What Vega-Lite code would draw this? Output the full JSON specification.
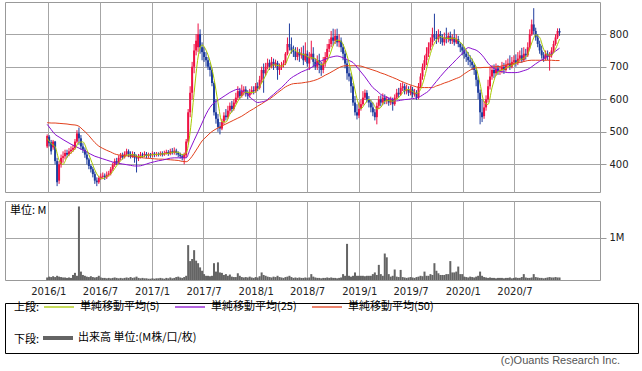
{
"$schema":"https://vega.github.io/schema/vega-lite/v6.json",
"background":"white",
"padding":{"left":4,"top":1,"right":0,"bottom":0},
"datasets":{
"w":[
{"d":"2015-12-28","o":455,"h":492,"l":450,"c":487,"v":0.06},
{"d":"2016-01-04","o":485,"h":490,"l":455,"c":465,"v":0.08},
{"d":"2016-01-11","o":468,"h":475,"l":430,"c":440,"v":0.07},
{"d":"2016-01-18","o":452,"h":475,"l":445,"c":470,"v":0.09},
{"d":"2016-01-25","o":470,"h":472,"l":400,"c":410,"v":0.07},
{"d":"2016-02-01","o":410,"h":420,"l":333,"c":345,"v":0.1},
{"d":"2016-02-08","o":350,"h":410,"l":340,"c":400,"v":0.08},
{"d":"2016-02-15","o":400,"h":430,"l":390,"c":420,"v":0.07},
{"d":"2016-02-22","o":420,"h":440,"l":405,"c":425,"v":0.06},
{"d":"2016-02-29","o":425,"h":445,"l":415,"c":435,"v":0.06},
{"d":"2016-03-07","o":435,"h":445,"l":420,"c":430,"v":0.05},
{"d":"2016-03-14","o":430,"h":450,"l":425,"c":440,"v":0.06},
{"d":"2016-03-21","o":440,"h":455,"l":432,"c":445,"v":0.05},
{"d":"2016-03-28","o":445,"h":460,"l":438,"c":450,"v":0.12},
{"d":"2016-04-04","o":450,"h":478,"l":445,"c":470,"v":0.17},
{"d":"2016-04-11","o":470,"h":505,"l":465,"c":495,"v":0.1},
{"d":"2016-04-18","o":495,"h":513,"l":460,"c":480,"v":1.75},
{"d":"2016-04-25","o":480,"h":490,"l":445,"c":455,"v":0.2},
{"d":"2016-05-02","o":455,"h":465,"l":435,"c":445,"v":0.12},
{"d":"2016-05-09","o":445,"h":452,"l":420,"c":430,"v":0.1},
{"d":"2016-05-16","o":430,"h":440,"l":400,"c":415,"v":0.08},
{"d":"2016-05-23","o":415,"h":420,"l":385,"c":395,"v":0.07},
{"d":"2016-05-30","o":395,"h":400,"l":375,"c":385,"v":0.09},
{"d":"2016-06-06","o":385,"h":392,"l":360,"c":370,"v":0.07},
{"d":"2016-06-13","o":370,"h":378,"l":340,"c":350,"v":0.06},
{"d":"2016-06-20","o":350,"h":360,"l":333,"c":345,"v":0.07},
{"d":"2016-06-27","o":345,"h":365,"l":340,"c":358,"v":0.1},
{"d":"2016-07-04","o":358,"h":372,"l":352,"c":362,"v":0.06},
{"d":"2016-07-11","o":362,"h":375,"l":355,"c":365,"v":0.05},
{"d":"2016-07-18","o":365,"h":372,"l":352,"c":360,"v":0.05},
{"d":"2016-07-25","o":360,"h":378,"l":355,"c":368,"v":0.04},
{"d":"2016-08-01","o":368,"h":380,"l":362,"c":372,"v":0.05},
{"d":"2016-08-08","o":372,"h":392,"l":366,"c":385,"v":0.04},
{"d":"2016-08-15","o":385,"h":405,"l":380,"c":398,"v":0.05},
{"d":"2016-08-22","o":398,"h":418,"l":392,"c":410,"v":0.06},
{"d":"2016-08-29","o":410,"h":420,"l":398,"c":405,"v":0.05},
{"d":"2016-09-05","o":405,"h":428,"l":400,"c":420,"v":0.04},
{"d":"2016-09-12","o":420,"h":435,"l":412,"c":428,"v":0.05},
{"d":"2016-09-19","o":428,"h":436,"l":415,"c":422,"v":0.04},
{"d":"2016-09-26","o":422,"h":440,"l":418,"c":432,"v":0.05},
{"d":"2016-10-03","o":432,"h":448,"l":426,"c":440,"v":0.06},
{"d":"2016-10-10","o":440,"h":446,"l":422,"c":430,"v":0.05},
{"d":"2016-10-17","o":430,"h":440,"l":418,"c":425,"v":0.07},
{"d":"2016-10-24","o":425,"h":440,"l":420,"c":432,"v":0.05},
{"d":"2016-10-31","o":432,"h":438,"l":405,"c":420,"v":0.06},
{"d":"2016-11-07","o":420,"h":430,"l":375,"c":418,"v":0.08},
{"d":"2016-11-14","o":418,"h":432,"l":410,"c":425,"v":0.05},
{"d":"2016-11-21","o":425,"h":438,"l":418,"c":430,"v":0.04},
{"d":"2016-11-28","o":430,"h":436,"l":420,"c":428,"v":0.05},
{"d":"2016-12-05","o":428,"h":440,"l":422,"c":432,"v":0.04},
{"d":"2016-12-12","o":432,"h":438,"l":418,"c":426,"v":0.04},
{"d":"2016-12-19","o":426,"h":436,"l":420,"c":430,"v":0.03},
{"d":"2016-12-26","o":430,"h":435,"l":420,"c":428,"v":0.03},
{"d":"2017-01-02","o":428,"h":440,"l":422,"c":433,"v":0.04},
{"d":"2017-01-09","o":433,"h":438,"l":422,"c":429,"v":0.03},
{"d":"2017-01-16","o":429,"h":438,"l":424,"c":432,"v":0.04},
{"d":"2017-01-23","o":432,"h":437,"l":424,"c":430,"v":0.04},
{"d":"2017-01-30","o":430,"h":440,"l":425,"c":434,"v":0.05},
{"d":"2017-02-06","o":434,"h":440,"l":424,"c":430,"v":0.04},
{"d":"2017-02-13","o":430,"h":442,"l":426,"c":435,"v":0.03},
{"d":"2017-02-20","o":435,"h":445,"l":430,"c":438,"v":0.05},
{"d":"2017-02-27","o":438,"h":444,"l":426,"c":432,"v":0.04},
{"d":"2017-03-06","o":432,"h":448,"l":428,"c":440,"v":0.06},
{"d":"2017-03-13","o":440,"h":450,"l":430,"c":436,"v":0.04},
{"d":"2017-03-20","o":436,"h":452,"l":430,"c":442,"v":0.05},
{"d":"2017-03-27","o":442,"h":448,"l":428,"c":435,"v":0.07},
{"d":"2017-04-03","o":435,"h":440,"l":422,"c":430,"v":0.08},
{"d":"2017-04-10","o":430,"h":436,"l":418,"c":425,"v":0.06},
{"d":"2017-04-17","o":425,"h":432,"l":412,"c":420,"v":0.05},
{"d":"2017-04-24","o":420,"h":436,"l":400,"c":430,"v":0.07},
{"d":"2017-05-01","o":428,"h":478,"l":420,"c":470,"v":0.1},
{"d":"2017-05-08","o":470,"h":570,"l":465,"c":560,"v":0.83},
{"d":"2017-05-15","o":560,"h":640,"l":545,"c":620,"v":0.45},
{"d":"2017-05-22","o":620,"h":715,"l":600,"c":700,"v":0.5},
{"d":"2017-05-29","o":700,"h":770,"l":680,"c":750,"v":0.71},
{"d":"2017-06-05","o":750,"h":800,"l":735,"c":780,"v":0.46},
{"d":"2017-06-12","o":760,"h":833,"l":745,"c":800,"v":0.4},
{"d":"2017-06-19","o":800,"h":815,"l":740,"c":760,"v":0.3},
{"d":"2017-06-26","o":760,"h":775,"l":720,"c":745,"v":0.22},
{"d":"2017-07-03","o":745,"h":760,"l":715,"c":730,"v":0.14},
{"d":"2017-07-10","o":730,"h":745,"l":700,"c":720,"v":0.1},
{"d":"2017-07-17","o":720,"h":730,"l":690,"c":700,"v":0.1},
{"d":"2017-07-24","o":700,"h":712,"l":670,"c":690,"v":0.09},
{"d":"2017-07-31","o":690,"h":695,"l":640,"c":650,"v":0.1},
{"d":"2017-08-07","o":650,"h":655,"l":550,"c":560,"v":0.4},
{"d":"2017-08-14","o":560,"h":600,"l":525,"c":540,"v":0.2},
{"d":"2017-08-21","o":540,"h":555,"l":500,"c":515,"v":0.42},
{"d":"2017-08-28","o":515,"h":530,"l":492,"c":510,"v":0.18},
{"d":"2017-09-04","o":510,"h":540,"l":505,"c":530,"v":0.17},
{"d":"2017-09-11","o":530,"h":560,"l":522,"c":550,"v":0.12},
{"d":"2017-09-18","o":550,"h":570,"l":535,"c":545,"v":0.14},
{"d":"2017-09-25","o":545,"h":580,"l":540,"c":565,"v":0.1},
{"d":"2017-10-02","o":565,"h":590,"l":555,"c":580,"v":0.13},
{"d":"2017-10-09","o":580,"h":595,"l":560,"c":570,"v":0.08},
{"d":"2017-10-16","o":570,"h":600,"l":565,"c":590,"v":0.07},
{"d":"2017-10-23","o":590,"h":620,"l":585,"c":605,"v":0.07},
{"d":"2017-10-30","o":605,"h":640,"l":598,"c":625,"v":0.16},
{"d":"2017-11-06","o":625,"h":635,"l":600,"c":610,"v":0.1},
{"d":"2017-11-13","o":610,"h":645,"l":605,"c":625,"v":0.07},
{"d":"2017-11-20","o":625,"h":640,"l":612,"c":630,"v":0.06},
{"d":"2017-11-27","o":630,"h":640,"l":608,"c":618,"v":0.07},
{"d":"2017-12-04","o":618,"h":628,"l":600,"c":612,"v":0.06},
{"d":"2017-12-11","o":612,"h":632,"l":605,"c":622,"v":0.08},
{"d":"2017-12-18","o":622,"h":640,"l":615,"c":628,"v":0.06},
{"d":"2017-12-25","o":628,"h":640,"l":615,"c":625,"v":0.05},
{"d":"2018-01-01","o":625,"h":650,"l":620,"c":640,"v":0.07},
{"d":"2018-01-08","o":640,"h":652,"l":625,"c":635,"v":0.06},
{"d":"2018-01-15","o":635,"h":672,"l":630,"c":660,"v":0.09},
{"d":"2018-01-22","o":660,"h":700,"l":650,"c":690,"v":0.18},
{"d":"2018-01-29","o":690,"h":710,"l":620,"c":680,"v":0.12},
{"d":"2018-02-05","o":680,"h":712,"l":672,"c":700,"v":0.1},
{"d":"2018-02-12","o":700,"h":725,"l":692,"c":712,"v":0.08},
{"d":"2018-02-19","o":712,"h":722,"l":690,"c":700,"v":0.07},
{"d":"2018-02-26","o":700,"h":730,"l":695,"c":715,"v":0.06},
{"d":"2018-03-05","o":715,"h":725,"l":690,"c":705,"v":0.08},
{"d":"2018-03-12","o":705,"h":722,"l":698,"c":712,"v":0.07},
{"d":"2018-03-19","o":712,"h":718,"l":660,"c":690,"v":0.1},
{"d":"2018-03-26","o":690,"h":710,"l":675,"c":700,"v":0.07},
{"d":"2018-04-02","o":700,"h":715,"l":690,"c":705,"v":0.06},
{"d":"2018-04-09","o":705,"h":720,"l":698,"c":710,"v":0.05},
{"d":"2018-04-16","o":710,"h":745,"l":705,"c":740,"v":0.07},
{"d":"2018-04-23","o":740,"h":790,"l":735,"c":770,"v":0.08},
{"d":"2018-04-30","o":770,"h":833,"l":750,"c":760,"v":0.1},
{"d":"2018-05-07","o":760,"h":790,"l":740,"c":750,"v":0.07},
{"d":"2018-05-14","o":750,"h":765,"l":730,"c":745,"v":0.05},
{"d":"2018-05-21","o":745,"h":760,"l":720,"c":730,"v":0.06},
{"d":"2018-05-28","o":730,"h":760,"l":720,"c":745,"v":0.05},
{"d":"2018-06-04","o":745,"h":755,"l":715,"c":735,"v":0.06},
{"d":"2018-06-11","o":735,"h":760,"l":725,"c":740,"v":0.05},
{"d":"2018-06-18","o":740,"h":765,"l":705,"c":720,"v":0.05},
{"d":"2018-06-25","o":720,"h":775,"l":715,"c":740,"v":0.06},
{"d":"2018-07-02","o":740,"h":750,"l":700,"c":710,"v":0.05},
{"d":"2018-07-09","o":710,"h":745,"l":690,"c":730,"v":0.06},
{"d":"2018-07-16","o":730,"h":780,"l":722,"c":740,"v":0.14},
{"d":"2018-07-23","o":740,"h":760,"l":700,"c":715,"v":0.08},
{"d":"2018-07-30","o":715,"h":725,"l":690,"c":700,"v":0.06},
{"d":"2018-08-06","o":700,"h":735,"l":690,"c":720,"v":0.05},
{"d":"2018-08-13","o":720,"h":740,"l":680,"c":705,"v":0.05},
{"d":"2018-08-20","o":705,"h":715,"l":672,"c":690,"v":0.04},
{"d":"2018-08-27","o":690,"h":730,"l":680,"c":710,"v":0.05},
{"d":"2018-09-03","o":710,"h":745,"l":700,"c":730,"v":0.05},
{"d":"2018-09-10","o":730,"h":770,"l":720,"c":755,"v":0.06},
{"d":"2018-09-17","o":755,"h":785,"l":745,"c":770,"v":0.05},
{"d":"2018-09-24","o":770,"h":810,"l":760,"c":790,"v":0.06},
{"d":"2018-10-01","o":790,"h":817,"l":765,"c":780,"v":0.05},
{"d":"2018-10-08","o":780,"h":815,"l":770,"c":795,"v":0.05},
{"d":"2018-10-15","o":795,"h":817,"l":762,"c":775,"v":0.04},
{"d":"2018-10-22","o":775,"h":800,"l":760,"c":780,"v":0.05},
{"d":"2018-10-29","o":780,"h":790,"l":745,"c":760,"v":0.06},
{"d":"2018-11-05","o":760,"h":770,"l":720,"c":740,"v":0.14},
{"d":"2018-11-12","o":740,"h":750,"l":695,"c":710,"v":0.1},
{"d":"2018-11-19","o":710,"h":720,"l":660,"c":680,"v":0.86},
{"d":"2018-11-26","o":680,"h":700,"l":655,"c":670,"v":0.1},
{"d":"2018-12-03","o":670,"h":680,"l":620,"c":640,"v":0.08},
{"d":"2018-12-10","o":640,"h":650,"l":580,"c":590,"v":0.1},
{"d":"2018-12-17","o":590,"h":610,"l":550,"c":560,"v":0.18},
{"d":"2018-12-24","o":560,"h":585,"l":538,"c":550,"v":0.1},
{"d":"2018-12-31","o":550,"h":590,"l":542,"c":570,"v":0.1},
{"d":"2019-01-07","o":570,"h":598,"l":565,"c":585,"v":0.1},
{"d":"2019-01-14","o":585,"h":625,"l":580,"c":605,"v":0.1},
{"d":"2019-01-21","o":605,"h":630,"l":598,"c":620,"v":0.09},
{"d":"2019-01-28","o":620,"h":628,"l":590,"c":600,"v":0.1},
{"d":"2019-02-04","o":600,"h":610,"l":575,"c":590,"v":0.1},
{"d":"2019-02-11","o":590,"h":598,"l":560,"c":575,"v":0.1},
{"d":"2019-02-18","o":575,"h":590,"l":548,"c":560,"v":0.14},
{"d":"2019-02-25","o":560,"h":570,"l":535,"c":545,"v":0.18},
{"d":"2019-03-04","o":545,"h":590,"l":523,"c":580,"v":0.12},
{"d":"2019-03-11","o":580,"h":610,"l":570,"c":600,"v":0.36},
{"d":"2019-03-18","o":600,"h":612,"l":578,"c":590,"v":0.14},
{"d":"2019-03-25","o":590,"h":618,"l":582,"c":605,"v":0.1},
{"d":"2019-04-01","o":605,"h":615,"l":585,"c":595,"v":0.63},
{"d":"2019-04-08","o":595,"h":610,"l":585,"c":600,"v":0.54},
{"d":"2019-04-15","o":600,"h":605,"l":580,"c":590,"v":0.14},
{"d":"2019-04-22","o":590,"h":608,"l":582,"c":600,"v":0.08},
{"d":"2019-04-29","o":600,"h":605,"l":565,"c":585,"v":0.1},
{"d":"2019-05-06","o":585,"h":615,"l":580,"c":605,"v":0.25},
{"d":"2019-05-13","o":605,"h":632,"l":600,"c":620,"v":0.08},
{"d":"2019-05-20","o":620,"h":635,"l":605,"c":615,"v":0.07},
{"d":"2019-05-27","o":615,"h":650,"l":610,"c":635,"v":0.24},
{"d":"2019-06-03","o":635,"h":652,"l":625,"c":640,"v":0.07},
{"d":"2019-06-10","o":640,"h":648,"l":615,"c":625,"v":0.06},
{"d":"2019-06-17","o":625,"h":645,"l":615,"c":630,"v":0.05},
{"d":"2019-06-24","o":630,"h":640,"l":610,"c":620,"v":0.06},
{"d":"2019-07-01","o":620,"h":642,"l":612,"c":630,"v":0.07},
{"d":"2019-07-08","o":630,"h":638,"l":605,"c":615,"v":0.06},
{"d":"2019-07-15","o":615,"h":632,"l":608,"c":620,"v":0.05},
{"d":"2019-07-22","o":620,"h":628,"l":598,"c":605,"v":0.07},
{"d":"2019-07-29","o":605,"h":650,"l":600,"c":640,"v":0.08},
{"d":"2019-08-05","o":640,"h":680,"l":635,"c":670,"v":0.1},
{"d":"2019-08-12","o":670,"h":710,"l":660,"c":700,"v":0.09},
{"d":"2019-08-19","o":700,"h":735,"l":690,"c":720,"v":0.2},
{"d":"2019-08-26","o":720,"h":760,"l":705,"c":740,"v":0.1},
{"d":"2019-09-02","o":740,"h":775,"l":730,"c":760,"v":0.1},
{"d":"2019-09-09","o":760,"h":790,"l":750,"c":775,"v":0.14},
{"d":"2019-09-16","o":775,"h":820,"l":765,"c":800,"v":0.12},
{"d":"2019-09-23","o":800,"h":863,"l":780,"c":790,"v":0.4},
{"d":"2019-09-30","o":790,"h":810,"l":770,"c":785,"v":0.22},
{"d":"2019-10-07","o":785,"h":815,"l":775,"c":800,"v":0.16},
{"d":"2019-10-14","o":800,"h":810,"l":770,"c":790,"v":0.12},
{"d":"2019-10-21","o":790,"h":800,"l":765,"c":775,"v":0.12},
{"d":"2019-10-28","o":775,"h":805,"l":765,"c":790,"v":0.12},
{"d":"2019-11-04","o":790,"h":820,"l":772,"c":785,"v":0.14},
{"d":"2019-11-11","o":785,"h":805,"l":775,"c":795,"v":0.14},
{"d":"2019-11-18","o":795,"h":808,"l":770,"c":780,"v":0.45},
{"d":"2019-11-25","o":780,"h":800,"l":770,"c":790,"v":0.18},
{"d":"2019-12-02","o":790,"h":815,"l":765,"c":775,"v":0.18},
{"d":"2019-12-09","o":775,"h":800,"l":770,"c":785,"v":0.2},
{"d":"2019-12-16","o":785,"h":795,"l":760,"c":770,"v":0.32},
{"d":"2019-12-23","o":770,"h":775,"l":745,"c":760,"v":0.14},
{"d":"2019-12-30","o":760,"h":770,"l":735,"c":750,"v":0.14},
{"d":"2020-01-06","o":750,"h":760,"l":725,"c":740,"v":0.08},
{"d":"2020-01-13","o":740,"h":750,"l":715,"c":730,"v":0.07},
{"d":"2020-01-20","o":730,"h":745,"l":705,"c":720,"v":0.06},
{"d":"2020-01-27","o":720,"h":735,"l":700,"c":715,"v":0.08},
{"d":"2020-02-03","o":715,"h":725,"l":690,"c":705,"v":0.07},
{"d":"2020-02-10","o":705,"h":710,"l":675,"c":690,"v":0.06},
{"d":"2020-02-17","o":690,"h":700,"l":640,"c":660,"v":0.08},
{"d":"2020-02-24","o":660,"h":670,"l":600,"c":620,"v":0.1},
{"d":"2020-03-02","o":620,"h":630,"l":523,"c":560,"v":0.2},
{"d":"2020-03-09","o":560,"h":600,"l":530,"c":545,"v":0.1},
{"d":"2020-03-16","o":548,"h":595,"l":540,"c":575,"v":0.07},
{"d":"2020-03-23","o":575,"h":612,"l":565,"c":600,"v":0.06},
{"d":"2020-03-30","o":600,"h":660,"l":590,"c":640,"v":0.05},
{"d":"2020-04-06","o":640,"h":700,"l":630,"c":670,"v":0.06},
{"d":"2020-04-13","o":670,"h":705,"l":660,"c":690,"v":0.05},
{"d":"2020-04-20","o":690,"h":707,"l":665,"c":680,"v":0.05},
{"d":"2020-04-27","o":680,"h":710,"l":672,"c":695,"v":0.04},
{"d":"2020-05-04","o":695,"h":705,"l":675,"c":685,"v":0.05},
{"d":"2020-05-11","o":685,"h":700,"l":675,"c":690,"v":0.05},
{"d":"2020-05-18","o":690,"h":715,"l":680,"c":700,"v":0.05},
{"d":"2020-05-25","o":700,"h":712,"l":678,"c":690,"v":0.04},
{"d":"2020-06-01","o":690,"h":720,"l":685,"c":705,"v":0.05},
{"d":"2020-06-08","o":705,"h":725,"l":695,"c":710,"v":0.05},
{"d":"2020-06-15","o":710,"h":735,"l":690,"c":700,"v":0.06},
{"d":"2020-06-22","o":700,"h":730,"l":695,"c":715,"v":0.04},
{"d":"2020-06-29","o":715,"h":735,"l":705,"c":720,"v":0.05},
{"d":"2020-07-06","o":720,"h":738,"l":700,"c":712,"v":0.06},
{"d":"2020-07-13","o":712,"h":745,"l":705,"c":725,"v":0.05},
{"d":"2020-07-20","o":725,"h":750,"l":715,"c":735,"v":0.05},
{"d":"2020-07-27","o":735,"h":758,"l":712,"c":720,"v":0.07},
{"d":"2020-08-03","o":720,"h":760,"l":715,"c":740,"v":0.14},
{"d":"2020-08-10","o":740,"h":755,"l":722,"c":735,"v":0.06},
{"d":"2020-08-17","o":735,"h":775,"l":730,"c":760,"v":0.05},
{"d":"2020-08-24","o":760,"h":815,"l":755,"c":800,"v":0.05},
{"d":"2020-08-31","o":800,"h":845,"l":795,"c":830,"v":0.06},
{"d":"2020-09-07","o":830,"h":880,"l":800,"c":810,"v":0.14},
{"d":"2020-09-14","o":810,"h":820,"l":780,"c":790,"v":0.07},
{"d":"2020-09-21","o":790,"h":800,"l":760,"c":770,"v":0.06},
{"d":"2020-09-28","o":770,"h":780,"l":740,"c":750,"v":0.05},
{"d":"2020-10-05","o":750,"h":765,"l":725,"c":735,"v":0.05},
{"d":"2020-10-12","o":735,"h":745,"l":715,"c":725,"v":0.04},
{"d":"2020-10-19","o":725,"h":750,"l":720,"c":740,"v":0.05},
{"d":"2020-10-26","o":740,"h":750,"l":720,"c":730,"v":0.06},
{"d":"2020-11-02","o":730,"h":745,"l":688,"c":735,"v":0.07},
{"d":"2020-11-09","o":735,"h":760,"l":728,"c":750,"v":0.06},
{"d":"2020-11-16","o":750,"h":780,"l":745,"c":770,"v":0.06},
{"d":"2020-11-23","o":770,"h":800,"l":765,"c":790,"v":0.07},
{"d":"2020-11-30","o":790,"h":818,"l":785,"c":810,"v":0.06},
{"d":"2020-12-07","o":810,"h":818,"l":795,"c":805,"v":0.06}
],
"ma":[
{"d":"2015-12-28","m5":480,"m25":523,"m50":528},
{"d":"2016-01-11","m5":464,"m25":507,"m50":527},
{"d":"2016-01-25","m5":454,"m25":492,"m50":527},
{"d":"2016-02-08","m5":413,"m25":484,"m50":526},
{"d":"2016-02-22","m5":400,"m25":476,"m50":525},
{"d":"2016-03-07","m5":422,"m25":469,"m50":524},
{"d":"2016-03-21","m5":435,"m25":462,"m50":522},
{"d":"2016-04-04","m5":447,"m25":456,"m50":521},
{"d":"2016-04-18","m5":468,"m25":450,"m50":517},
{"d":"2016-05-02","m5":469,"m25":444,"m50":506},
{"d":"2016-05-16","m5":445,"m25":438,"m50":495},
{"d":"2016-05-30","m5":414,"m25":431,"m50":481},
{"d":"2016-06-13","m5":383,"m25":425,"m50":467},
{"d":"2016-06-27","m5":362,"m25":421,"m50":456},
{"d":"2016-07-11","m5":356,"m25":417,"m50":449},
{"d":"2016-07-25","m5":363,"m25":413,"m50":443},
{"d":"2016-08-08","m5":370,"m25":409,"m50":438},
{"d":"2016-08-22","m5":387,"m25":405,"m50":432},
{"d":"2016-09-05","m5":404,"m25":403,"m50":429},
{"d":"2016-09-19","m5":417,"m25":401,"m50":428},
{"d":"2016-10-03","m5":428,"m25":399,"m50":426},
{"d":"2016-10-17","m5":430,"m25":397,"m50":425},
{"d":"2016-10-31","m5":429,"m25":395,"m50":424},
{"d":"2016-11-14","m5":424,"m25":395,"m50":422},
{"d":"2016-11-28","m5":424,"m25":397,"m50":420},
{"d":"2016-12-12","m5":428,"m25":401,"m50":419},
{"d":"2016-12-26","m5":429,"m25":405,"m50":418},
{"d":"2017-01-09","m5":430,"m25":408,"m50":417},
{"d":"2017-01-23","m5":431,"m25":411,"m50":416},
{"d":"2017-02-06","m5":432,"m25":413,"m50":416},
{"d":"2017-02-20","m5":433,"m25":416,"m50":415},
{"d":"2017-03-06","m5":435,"m25":419,"m50":414},
{"d":"2017-03-20","m5":438,"m25":420,"m50":413},
{"d":"2017-04-03","m5":437,"m25":420,"m50":412},
{"d":"2017-04-17","m5":430,"m25":420,"m50":409},
{"d":"2017-05-01","m5":435,"m25":420,"m50":408},
{"d":"2017-05-15","m5":500,"m25":447,"m50":417},
{"d":"2017-05-29","m5":620,"m25":474,"m50":434},
{"d":"2017-06-12","m5":730,"m25":500,"m50":453},
{"d":"2017-06-26","m5":767,"m25":527,"m50":472},
{"d":"2017-07-10","m5":751,"m25":554,"m50":484},
{"d":"2017-07-24","m5":717,"m25":575,"m50":496},
{"d":"2017-08-07","m5":664,"m25":589,"m50":505},
{"d":"2017-08-21","m5":591,"m25":597,"m50":512},
{"d":"2017-09-04","m5":531,"m25":605,"m50":518},
{"d":"2017-09-18","m5":530,"m25":613,"m50":524},
{"d":"2017-10-02","m5":554,"m25":621,"m50":530},
{"d":"2017-10-16","m5":570,"m25":627,"m50":536},
{"d":"2017-10-30","m5":594,"m25":631,"m50":542},
{"d":"2017-11-13","m5":611,"m25":626,"m50":548},
{"d":"2017-11-27","m5":622,"m25":620,"m50":556},
{"d":"2017-12-11","m5":621,"m25":607,"m50":564},
{"d":"2017-12-25","m5":621,"m25":597,"m50":571},
{"d":"2018-01-08","m5":630,"m25":590,"m50":579},
{"d":"2018-01-22","m5":650,"m25":592,"m50":586},
{"d":"2018-02-05","m5":673,"m25":595,"m50":594},
{"d":"2018-02-19","m5":696,"m25":605,"m50":601},
{"d":"2018-03-05","m5":706,"m25":615,"m50":610},
{"d":"2018-03-19","m5":704,"m25":626,"m50":620},
{"d":"2018-04-02","m5":702,"m25":636,"m50":629},
{"d":"2018-04-16","m5":709,"m25":648,"m50":638},
{"d":"2018-04-30","m5":737,"m25":661,"m50":644},
{"d":"2018-05-14","m5":753,"m25":670,"m50":648},
{"d":"2018-05-28","m5":746,"m25":677,"m50":649},
{"d":"2018-06-11","m5":739,"m25":684,"m50":650},
{"d":"2018-06-25","m5":736,"m25":689,"m50":652},
{"d":"2018-07-09","m5":728,"m25":694,"m50":654},
{"d":"2018-07-23","m5":727,"m25":701,"m50":657},
{"d":"2018-08-06","m5":721,"m25":710,"m50":661},
{"d":"2018-08-20","m5":706,"m25":718,"m50":667},
{"d":"2018-09-03","m5":711,"m25":723,"m50":674},
{"d":"2018-09-17","m5":731,"m25":728,"m50":680},
{"d":"2018-10-01","m5":765,"m25":731,"m50":687},
{"d":"2018-10-15","m5":782,"m25":733,"m50":694},
{"d":"2018-10-29","m5":778,"m25":730,"m50":700},
{"d":"2018-11-12","m5":753,"m25":725,"m50":703},
{"d":"2018-11-26","m5":712,"m25":719,"m50":703},
{"d":"2018-12-10","m5":658,"m25":713,"m50":703},
{"d":"2018-12-24","m5":602,"m25":699,"m50":703},
{"d":"2019-01-07","m5":571,"m25":684,"m50":702},
{"d":"2019-01-21","m5":586,"m25":669,"m50":698},
{"d":"2019-02-04","m5":600,"m25":652,"m50":694},
{"d":"2019-02-18","m5":589,"m25":636,"m50":690},
{"d":"2019-03-04","m5":570,"m25":626,"m50":686},
{"d":"2019-03-18","m5":575,"m25":615,"m50":681},
{"d":"2019-04-01","m5":594,"m25":608,"m50":677},
{"d":"2019-04-15","m5":596,"m25":604,"m50":672},
{"d":"2019-04-29","m5":594,"m25":599,"m50":667},
{"d":"2019-05-13","m5":600,"m25":595,"m50":662},
{"d":"2019-05-27","m5":612,"m25":597,"m50":656},
{"d":"2019-06-10","m5":627,"m25":599,"m50":651},
{"d":"2019-06-24","m5":630,"m25":600,"m50":646},
{"d":"2019-07-08","m5":624,"m25":602,"m50":642},
{"d":"2019-07-22","m5":618,"m25":604,"m50":638},
{"d":"2019-08-05","m5":630,"m25":609,"m50":636},
{"d":"2019-08-19","m5":667,"m25":617,"m50":636},
{"d":"2019-09-02","m5":718,"m25":625,"m50":636},
{"d":"2019-09-16","m5":759,"m25":640,"m50":636},
{"d":"2019-09-30","m5":782,"m25":655,"m50":641},
{"d":"2019-10-14","m5":793,"m25":670,"m50":645},
{"d":"2019-10-28","m5":788,"m25":684,"m50":650},
{"d":"2019-11-11","m5":787,"m25":697,"m50":654},
{"d":"2019-11-25","m5":788,"m25":709,"m50":659},
{"d":"2019-12-09","m5":785,"m25":722,"m50":664},
{"d":"2019-12-23","m5":776,"m25":734,"m50":669},
{"d":"2020-01-06","m5":761,"m25":747,"m50":678},
{"d":"2020-01-20","m5":740,"m25":759,"m50":686},
{"d":"2020-02-03","m5":722,"m25":755,"m50":693},
{"d":"2020-02-17","m5":698,"m25":751,"m50":697},
{"d":"2020-03-02","m5":647,"m25":742,"m50":697},
{"d":"2020-03-16","m5":592,"m25":728,"m50":698},
{"d":"2020-03-30","m5":584,"m25":711,"m50":698},
{"d":"2020-04-13","m5":635,"m25":699,"m50":699},
{"d":"2020-04-27","m5":675,"m25":691,"m50":700},
{"d":"2020-05-11","m5":688,"m25":686,"m50":701},
{"d":"2020-05-25","m5":692,"m25":684,"m50":704},
{"d":"2020-06-08","m5":699,"m25":682,"m50":707},
{"d":"2020-06-22","m5":704,"m25":682,"m50":710},
{"d":"2020-07-06","m5":711,"m25":682,"m50":711},
{"d":"2020-07-20","m5":721,"m25":684,"m50":713},
{"d":"2020-08-03","m5":726,"m25":688,"m50":716},
{"d":"2020-08-17","m5":738,"m25":692,"m50":719},
{"d":"2020-08-31","m5":773,"m25":700,"m50":720},
{"d":"2020-09-14","m5":798,"m25":709,"m50":720},
{"d":"2020-09-28","m5":790,"m25":717,"m50":720},
{"d":"2020-10-12","m5":754,"m25":725,"m50":720},
{"d":"2020-10-26","m5":736,"m25":733,"m50":720},
{"d":"2020-11-09","m5":736,"m25":740,"m50":720},
{"d":"2020-11-23","m5":755,"m25":748,"m50":719},
{"d":"2020-12-07","m5":785,"m25":757,"m50":719}
]
},
"vconcat":[
{
"vconcat":[
{
"width":595,"height":190,
"data":{"name":"w"},
"encoding":{"x":{"field":"d","type":"temporal","scale":{"type":"utc","domain":[{"year":2015,"month":8,"date":19,"utc":true},{"year":2021,"month":4,"date":11,"utc":true}]},"axis":{"values":[{"year":2016,"month":1,"date":1,"utc":true},{"year":2016,"month":7,"date":1,"utc":true},{"year":2017,"month":1,"date":1,"utc":true},{"year":2017,"month":7,"date":1,"utc":true},{"year":2018,"month":1,"date":1,"utc":true},{"year":2018,"month":7,"date":1,"utc":true},{"year":2019,"month":1,"date":1,"utc":true},{"year":2019,"month":7,"date":1,"utc":true},{"year":2020,"month":1,"date":1,"utc":true},{"year":2020,"month":7,"date":1,"utc":true}],"grid":true,"labels":false,"ticks":false,"domain":false,"title":null}}},
"layer":[
{"mark":{"type":"rule","strokeWidth":1},
"encoding":{"y":{"field":"l","type":"quantitative","scale":{"domain":[315,899],"nice":false,"zero":false},"axis":{"orient":"right","values":[400,500,600,700,800],"grid":true,"tickSize":6,"labelPadding":3,"title":null}},"y2":{"field":"h"},
"color":{"condition":{"test":"datum.c >= datum.o","value":"#ee1144"},"value":"#1f3d9e"}}},
{"mark":{"type":"bar","width":2},
"encoding":{"y":{"field":"o","type":"quantitative","title":null},"y2":{"field":"c"},
"color":{"condition":{"test":"datum.c >= datum.o","value":"#ee1144"},"value":"#1f3d9e"}}},
{"data":{"name":"ma"},"mark":{"type":"line","strokeWidth":1,"interpolate":"monotone"},
"encoding":{"y":{"field":"m50","type":"quantitative","title":null},
"stroke":{"datum":"単純移動平均(50)","scale":{"domain":["単純移動平均(5)","単純移動平均(25)","単純移動平均(50)"],"range":["#a8c800","#8a10d0","#e2401c"]},
"legend":{"title":"上段:","orient":"none","legendX":9,"legendY":289,"direction":"horizontal","titleOrient":"left","titleBaseline":"line-top","titleLineHeight":11,"symbolType":"stroke","symbolSize":900,"symbolStrokeWidth":1.3,"labelFont":"Noto Sans CJK JP","labelFontSize":11,"labelColor":"#000","titleFont":"Noto Sans CJK JP","titleFontSize":11,"titleFontWeight":"normal","titleColor":"#000","titlePadding":3,"labelOffset":5,"columnPadding":12,"padding":0}}}},
{"data":{"name":"ma"},"mark":{"type":"line","strokeWidth":1,"interpolate":"monotone"},
"encoding":{"y":{"field":"m25","type":"quantitative","title":null},"stroke":{"datum":"単純移動平均(25)"}}},
{"data":{"name":"ma"},"mark":{"type":"line","strokeWidth":1,"interpolate":"monotone"},
"encoding":{"y":{"field":"m5","type":"quantitative","title":null},"stroke":{"datum":"単純移動平均(5)"}}}
]
},
{
"width":595,"height":79,
"data":{"name":"w"},
"title":{"text":"単位: M","anchor":"start","frame":"group","offset":-15,"dx":5,"fontSize":11,"fontWeight":"normal","font":"Noto Sans CJK JP","color":"#000"},
"mark":{"type":"bar","width":2},
"encoding":{
"x":{"field":"d","type":"temporal","scale":{"type":"utc","domain":[{"year":2015,"month":8,"date":19,"utc":true},{"year":2021,"month":4,"date":11,"utc":true}]},"axis":{"values":[{"year":2016,"month":1,"date":1,"utc":true},{"year":2016,"month":7,"date":1,"utc":true},{"year":2017,"month":1,"date":1,"utc":true},{"year":2017,"month":7,"date":1,"utc":true},{"year":2018,"month":1,"date":1,"utc":true},{"year":2018,"month":7,"date":1,"utc":true},{"year":2019,"month":1,"date":1,"utc":true},{"year":2019,"month":7,"date":1,"utc":true},{"year":2020,"month":1,"date":1,"utc":true},{"year":2020,"month":7,"date":1,"utc":true}],"format":"%Y/%-m","grid":true,"ticks":false,"domain":false,"labelPadding":6,"title":null}},
"y":{"field":"v","type":"quantitative","scale":{"domain":[0,1.88],"nice":false},"axis":{"orient":"right","values":[1],"labelExpr":"'1M'","grid":true,"tickSize":6,"labelPadding":3,"title":null}},
"fill":{"datum":"出来高 単位:(M株/口/枚)","scale":{"range":["#646464"]},
"legend":{"title":"下段:","orient":"none","legendX":9,"legendY":319,"direction":"horizontal","titleOrient":"left","titleBaseline":"line-top","titleLineHeight":11,"symbolType":"stroke","symbolSize":900,"symbolStrokeWidth":4,"symbolStrokeColor":"#646464","labelFont":"Noto Sans CJK JP","labelFontSize":11,"labelColor":"#000","titleFont":"Noto Sans CJK JP","titleFontSize":11,"titleFontWeight":"normal","titleColor":"#000","titlePadding":1,"labelOffset":3,"padding":0}}
}
}
],
"spacing":7
},
{
"width":633,"height":50,
"data":{"values":[]},
"mark":"point",
"encoding":{},
"view":{"stroke":"#000","strokeWidth":1},
"title":{"text":"(c)Ouants Research Inc.","orient":"bottom","anchor":"end","frame":"group","offset":2,"dx":-18,"fontSize":11,"fontWeight":"normal","font":"Liberation Sans","color":"#555"}
}
],
"spacing":5,
"config":{
"view":{"stroke":"#999","strokeWidth":1},
"axis":{"gridColor":"#a6a6a6","gridWidth":1,"tickColor":"#999","labelFont":"DejaVu Sans","labelFontSize":10,"labelColor":"#222","domain":false},
"title":{"fontWeight":"normal"}
}
}
